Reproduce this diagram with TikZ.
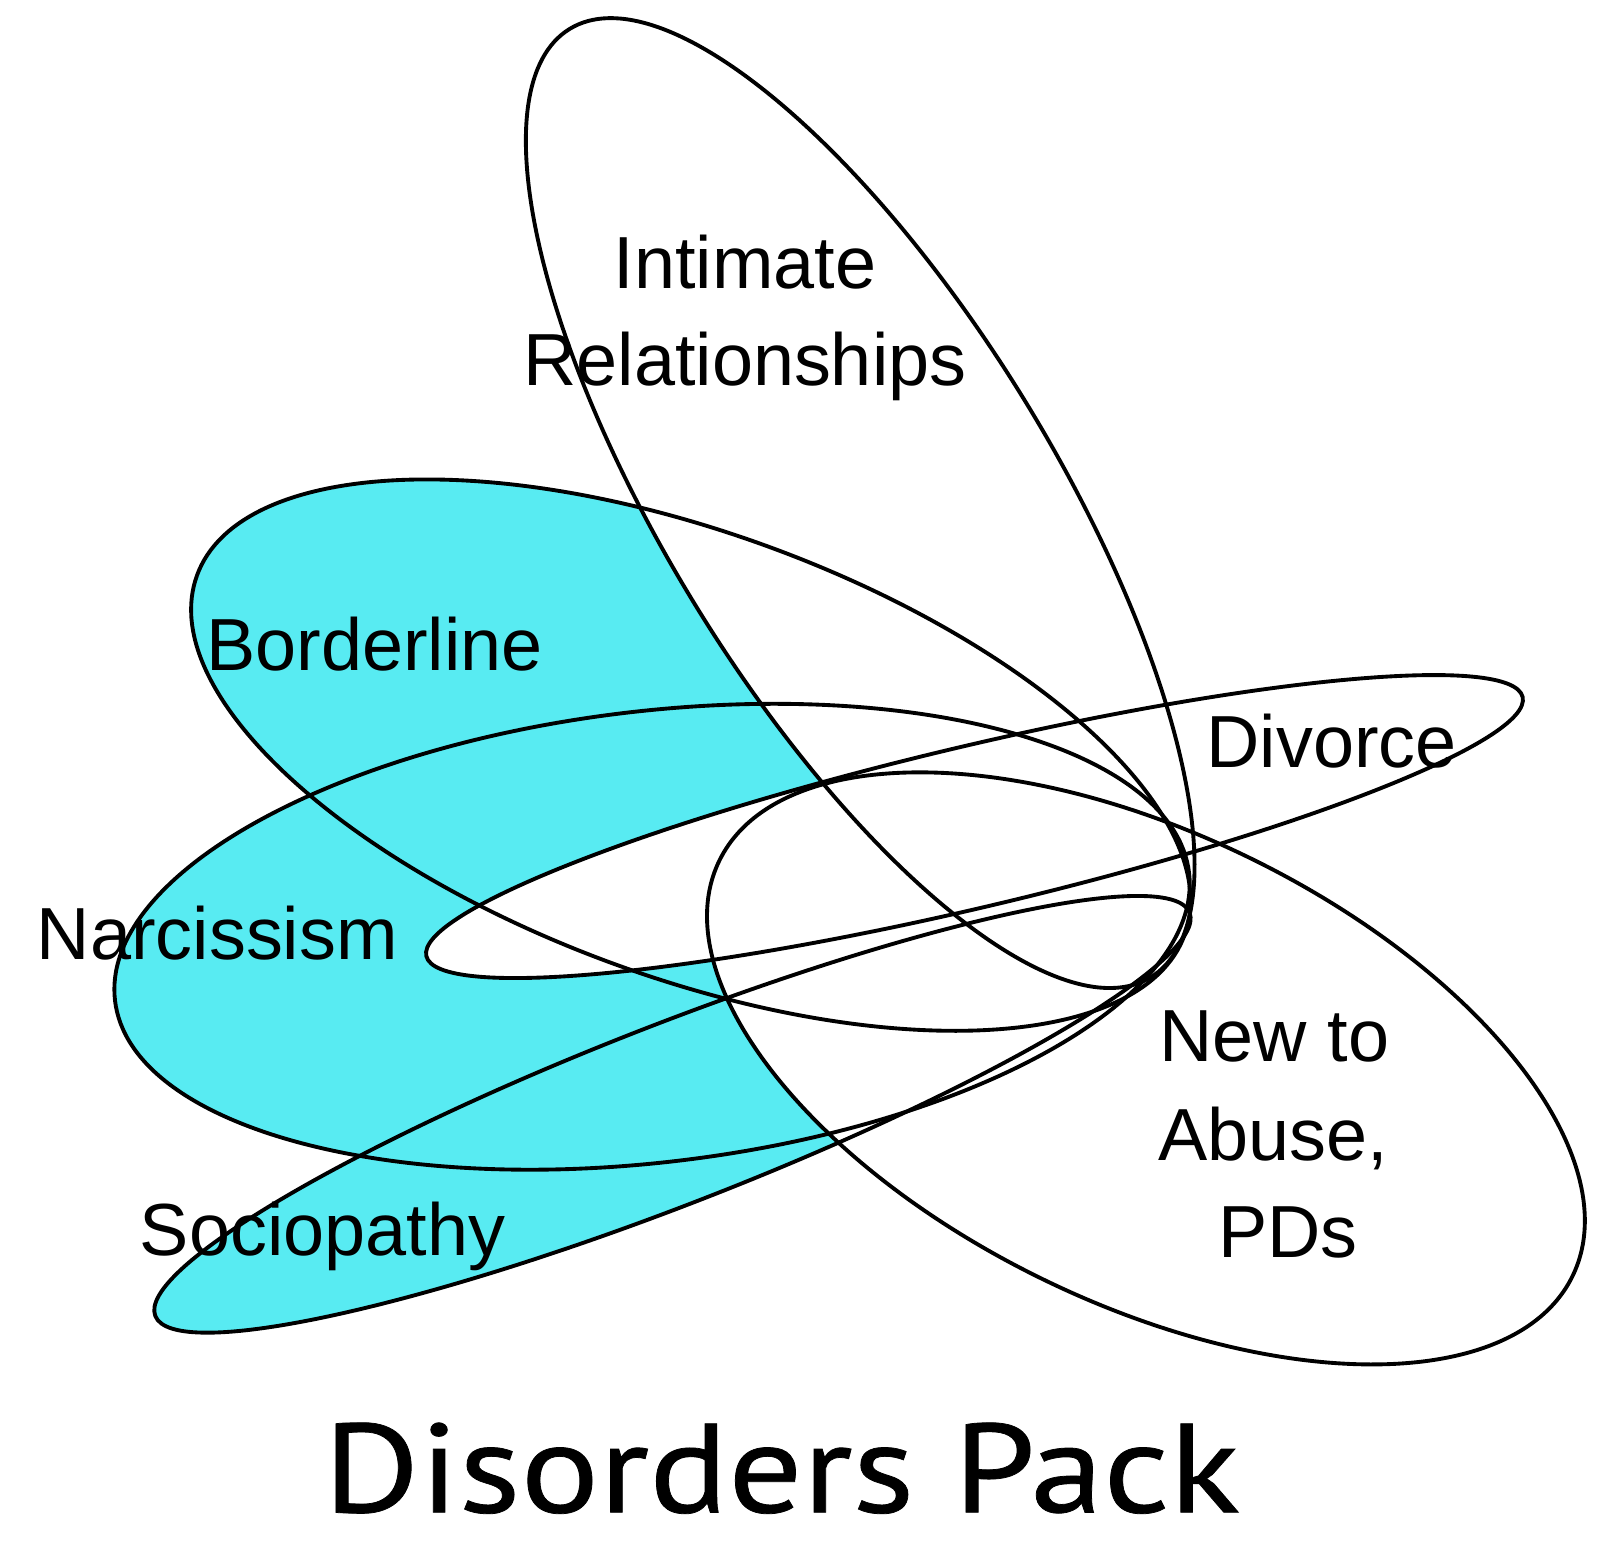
\documentclass[tikz,border=0pt]{standalone}
\usepackage{fontspec}
\usepackage{tikz}
\newfontfamily\labelfont{Liberation Sans}
\newfontfamily\titlefont{PT Sans}[FakeStretch=1.16, FakeBold=0.6]
\definecolor{venncyan}{RGB}{88,235,242}
\tikzset{
  ring/.style={draw=black, line width=1.1pt},
  shaded/.style={fill=venncyan},
  blank/.style={fill=white},
  lbl/.style={font=\labelfont\fontsize{21}{25}\selectfont, inner sep=0pt, anchor=base},
  ttl/.style={font=\titlefont\fontsize{36}{40}\selectfont, inner sep=0pt, anchor=base}
}
% ellipses as centre x / centre y / x radius / y radius / turn
\newcommand{\disorders}{677/740/515/218/-20, 639/918/530/221/6.8, 659/1092/544/88/21.3}
\newcommand{\contexts}{843/493/545/190/-58.5, 955/810/552/79/13.3, 1123/1047/465/230/-25.95}

\begin{document}
\begin{tikzpicture}[x=0.10204mm, y=-0.10204mm]
  \useasboundingbox[fill=white] (0,0) rectangle (1568,1536);

  % cyan: Borderline, Narcissism, Sociopathy, less the three other sets
  \foreach \cx/\cy/\rx/\ry/\t in \disorders
    \fill[shaded, rotate around={\t:(\cx,\cy)}] (\cx,\cy) ellipse [x radius=\rx, y radius=\ry];
  \foreach \cx/\cy/\rx/\ry/\t in \contexts
    \fill[blank, rotate around={\t:(\cx,\cy)}] (\cx,\cy) ellipse [x radius=\rx, y radius=\ry];

  % outlines
  \foreach \cx/\cy/\rx/\ry/\t in \disorders
    \draw[ring, rotate around={\t:(\cx,\cy)}] (\cx,\cy) ellipse [x radius=\rx, y radius=\ry];
  \foreach \cx/\cy/\rx/\ry/\t in \contexts
    \draw[ring, rotate around={\t:(\cx,\cy)}] (\cx,\cy) ellipse [x radius=\rx, y radius=\ry];

  % labels
  \node[lbl] (intim) at (730,283) {Intimate};
  \node[lbl] (relat) at (730,378) {Relationships};
  \node[lbl] (bord) at (367,657) {Borderline};
  \node[lbl] (divo) at (1305,752) {Divorce};
  \node[lbl] (narc) at (213,940) {Narcissism};
  \node[lbl] (socio) at (316,1230) {Sociopathy};
  \node[lbl] (newa) at (1249,1040) {New to};
  \node[lbl] (newb) at (1248,1137) {Abuse,};
  \node[lbl] (newc) at (1262,1232) {PDs};

  \node[ttl] (title) at (766,1482) {Disorders Pack};
\end{tikzpicture}
\end{document}
